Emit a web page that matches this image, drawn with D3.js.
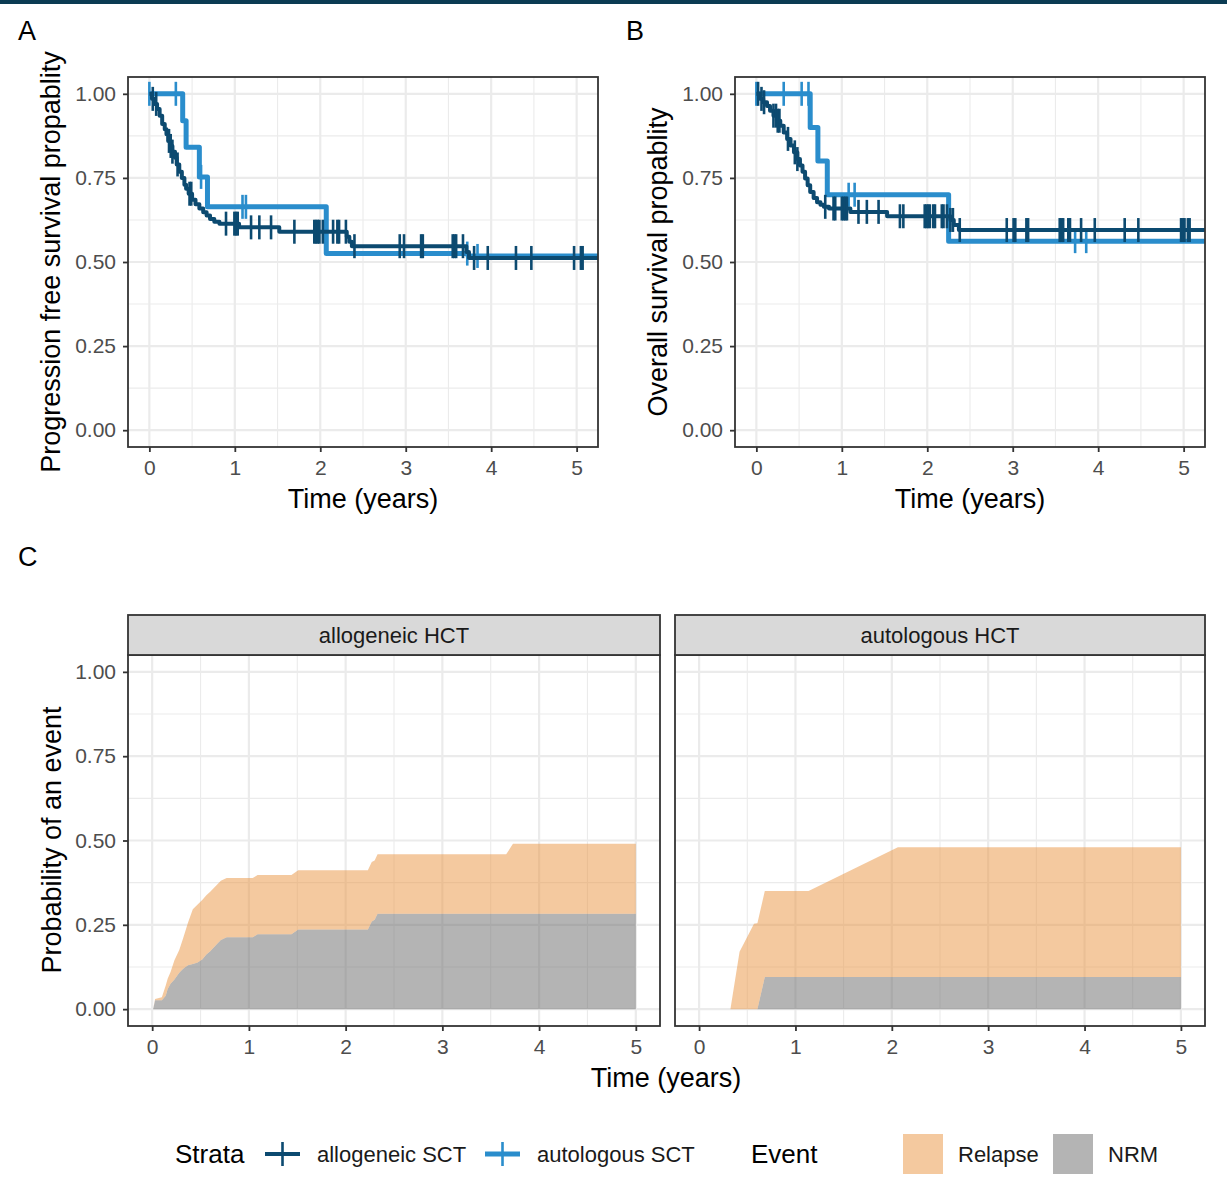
<!DOCTYPE html>
<html>
<head>
<meta charset="utf-8">
<script src="https://cdn.jsdelivr.net/npm/d3@7"></script>
<style>
  body { margin: 0; background: #fff; }
  svg { display: block; font-family: "Liberation Sans", Arial, Helvetica, sans-serif; }
</style>
</head>
<body>
<svg id="chart" width="1227" height="1195"></svg>
<script>
// ---- Kaplan-Meier: progression free survival ----
const strata = ["allogeneic SCT", "autologous SCT"];

const pfsAlloTime = [0,0.03,0.06,0.09,0.12,0.15,0.18,0.20,0.22,0.25,0.27,0.30,0.32,0.35,0.38,0.41,0.43,0.46,0.50,0.54,0.585,0.63,0.67,0.71,0.76,0.82,1.05,1.52,2.31,2.34,2.37,3.71,3.74];
const pfsAlloSurv = [1,0.985,0.97,0.955,0.935,0.91,0.895,0.88,0.86,0.845,0.828,0.81,0.79,0.768,0.75,0.73,0.718,0.703,0.685,0.672,0.659,0.648,0.638,0.628,0.62,0.614,0.603,0.59,0.575,0.56,0.547,0.53,0.512];
const pfsAlloCensor = [0.04,0.08,0.23,0.25,0.27,0.33,0.47,0.49,0.897,0.995,1.014,1.034,1.19,1.287,1.424,1.697,1.93,1.95,1.97,1.99,2.03,2.15,2.2,2.22,2.30,2.40,2.93,2.98,3.18,3.2,3.55,3.57,3.59,3.67,3.80,3.96,4.29,4.47,4.97,5.05,5.07];

const pfsAutoTime = [0,0.39,0.43,0.585,0.68,2.07,3.73];
const pfsAutoSurv = [1,0.92,0.841,0.753,0.664,0.525,0.518];
const pfsAutoCensor = [0,0.31,0.605,1.09,1.13,3.72,3.84];

// ---- Kaplan-Meier: overall survival ----
const osAlloTime = [0,0.04,0.08,0.125,0.16,0.20,0.24,0.28,0.32,0.36,0.40,0.44,0.48,0.51,0.54,0.57,0.60,0.63,0.67,0.71,0.75,0.79,0.85,1.10,1.53,2.27,2.31,2.37];
const osAlloSurv = [1,0.985,0.975,0.964,0.95,0.935,0.92,0.905,0.885,0.866,0.846,0.826,0.806,0.787,0.768,0.748,0.728,0.708,0.69,0.678,0.67,0.664,0.659,0.649,0.636,0.625,0.61,0.595];
const osAlloCensor = [0.02,0.06,0.09,0.2,0.23,0.25,0.27,0.37,0.45,0.48,0.806,0.903,0.923,1.0,1.02,1.04,1.06,1.195,1.293,1.43,1.68,1.72,1.97,1.99,2.01,2.03,2.07,2.09,2.17,2.19,2.23,2.27,2.30,2.38,2.93,3.01,3.03,3.16,3.18,3.55,3.57,3.59,3.65,3.67,3.80,3.96,4.31,4.47,4.97,4.99,5.01,5.05,5.07];

const osAutoTime = [0,0.63,0.72,0.83,2.25];
const osAutoSurv = [1,0.90,0.80,0.70,0.562];
const osAutoCensor = [0,0.32,0.53,0.61,1.08,1.15,3.73,3.86];

// ---- Cumulative incidence of competing events ----
const facets = ["allogeneic HCT", "autologous HCT"];
const events = ["Relapse", "NRM"];

const cifAlloTime    = [0.01,0.03,0.10,0.14,0.16,0.19,0.23,0.28,0.32,0.37,0.42,0.47,0.52,0.56,0.60,0.66,0.71,0.77,1.04,1.09,1.44,1.51,2.23,2.27,2.30,2.33,3.66,3.73,5.00];
const cifAlloNRM     = [0,0.026,0.026,0.04,0.06,0.075,0.088,0.108,0.12,0.13,0.134,0.138,0.148,0.162,0.172,0.19,0.205,0.213,0.213,0.222,0.222,0.236,0.236,0.26,0.265,0.283,0.283,0.283,0.283];
const cifAlloRelapse = [0,0.004,0.009,0.03,0.03,0.035,0.057,0.067,0.09,0.126,0.162,0.172,0.176,0.176,0.176,0.176,0.176,0.176,0.176,0.176,0.176,0.176,0.176,0.176,0.176,0.176,0.176,0.207,0.207];

const cifAutoTime    = [0.325,0.42,0.57,0.605,0.682,1.136,2.063,5.0];
const cifAutoNRM     = [0,0,0,0,0.095,0.095,0.095,0.095];
const cifAutoRelapse = [0,0.17,0.253,0.255,0.255,0.255,0.385,0.385];

// ---- axes ----
const xTicks = [0, 1, 2, 3, 4, 5];
const xMinor = [0.5, 1.5, 2.5, 3.5, 4.5];
const yTicks = [0, 0.25, 0.5, 0.75, 1];
const yMinor = [0.125, 0.375, 0.625, 0.875];

// ---- style ----
const colAllo = "#0c4a70";
const colAuto = "#2a8dcc";
const colRelapse = "#e9933f";
const colNRM = "#696969";
const areaAlpha = 0.5;
const gridCol = "#ebebeb";
const borderCol = "#333333";
const titleSize = "27px";
const tickSize = "21px";

const svg = d3.select("#chart");

// thin dark band along the top edge
svg.append("rect").attr("x", 0).attr("y", 0).attr("width", 1227).attr("height", 4).attr("fill", "#0b3b53");

let clipId = 0;

function panelFrame(p) {
  const g = svg.append("g");
  const x = d3.scaleLinear().domain([-0.25, 5.25]).range([p.x, p.x + p.w]);
  const y = d3.scaleLinear().domain([-0.05, 1.05]).range([p.y + p.h, p.y]);
  g.append("rect").attr("x", p.x).attr("y", p.y).attr("width", p.w).attr("height", p.h).attr("fill", "#fff");
  const grid = g.append("g");
  xMinor.forEach(v => grid.append("line").attr("x1", x(v)).attr("x2", x(v)).attr("y1", p.y).attr("y2", p.y + p.h).attr("stroke", gridCol).attr("stroke-width", 1.1));
  yMinor.forEach(v => grid.append("line").attr("y1", y(v)).attr("y2", y(v)).attr("x1", p.x).attr("x2", p.x + p.w).attr("stroke", gridCol).attr("stroke-width", 1.1));
  xTicks.forEach(v => grid.append("line").attr("x1", x(v)).attr("x2", x(v)).attr("y1", p.y).attr("y2", p.y + p.h).attr("stroke", gridCol).attr("stroke-width", 2.2));
  yTicks.forEach(v => grid.append("line").attr("y1", y(v)).attr("y2", y(v)).attr("x1", p.x).attr("x2", p.x + p.w).attr("stroke", gridCol).attr("stroke-width", 2.2));
  const id = "clip" + (clipId++);
  svg.append("clipPath").attr("id", id).append("rect").attr("x", p.x).attr("y", p.y).attr("width", p.w).attr("height", p.h);
  const plot = g.append("g").attr("clip-path", `url(#${id})`);
  return { g, x, y, plot };
}

function panelAxes(f, p, showY) {
  const ax = f.g.append("g").attr("transform", `translate(0,${p.y + p.h})`)
    .call(d3.axisBottom(f.x).tickValues(xTicks).tickFormat(d3.format("d")).tickSize(5).tickPadding(8));
  if (showY) {
    const ay = f.g.append("g").attr("transform", `translate(${p.x},0)`)
      .call(d3.axisLeft(f.y).tickValues(yTicks).tickFormat(d3.format(".2f")).tickSize(5).tickPadding(7));
    styleAxis(ay);
  }
  styleAxis(ax);
  f.g.append("rect").attr("x", p.x).attr("y", p.y).attr("width", p.w).attr("height", p.h)
    .attr("fill", "none").attr("stroke", borderCol).attr("stroke-width", 1.8);
}

function styleAxis(a) {
  a.select(".domain").remove();
  a.selectAll(".tick line").attr("stroke", borderCol).attr("stroke-width", 1.8);
  a.selectAll(".tick text").attr("fill", "#4d4d4d").style("font-size", tickSize).style("font-family", "Liberation Sans, Arial, sans-serif");
}

function stepAt(times, surv, t) {
  return surv[Math.max(0, d3.bisectRight(times, t) - 1)];
}

function drawKM(f, times, surv, censor, color, width) {
  const pts = times.map((t, i) => [t, surv[i]]);
  pts.push([5.3, surv[surv.length - 1]]);
  const line = d3.line().x(d => f.x(d[0])).y(d => f.y(d[1])).curve(d3.curveStepAfter);
  f.plot.append("path").attr("d", line(pts)).attr("fill", "none").attr("stroke", color)
    .attr("stroke-width", width).attr("stroke-linejoin", "round");
  f.plot.selectAll(null).data(censor).enter().append("line")
    .attr("x1", t => f.x(t)).attr("x2", t => f.x(t))
    .attr("y1", t => f.y(stepAt(times, surv, t)) - 12)
    .attr("y2", t => f.y(stepAt(times, surv, t)) + 12)
    .attr("stroke", color).attr("stroke-width", 2.6);
}

function kmPanel(p, tag, tagX, yTitle, series) {
  const f = panelFrame(p);
  series.forEach(s => drawKM(f, s.time, s.surv, s.censor, s.color, s.width));
  panelAxes(f, p, true);
  svg.append("text").attr("x", tagX).attr("y", 40).text(tag).style("font-size", "27px").attr("fill", "#000");
  svg.append("text").attr("transform", `translate(${p.x - 77},${p.y + p.h / 2}) rotate(-90)`)
    .attr("text-anchor", "middle").attr("dy", "0.35em").text(yTitle).style("font-size", titleSize);
  svg.append("text").attr("x", p.x + p.w / 2).attr("y", p.y + p.h + 61).attr("text-anchor", "middle")
    .text("Time (years)").style("font-size", titleSize);
}

kmPanel({ x: 128, y: 77, w: 470, h: 370 }, "A", 18, "Progression free survival propablity", [
  { time: pfsAutoTime, surv: pfsAutoSurv, censor: pfsAutoCensor, color: colAuto, width: 5 },
  { time: pfsAlloTime, surv: pfsAlloSurv, censor: pfsAlloCensor, color: colAllo, width: 4 }
]);
kmPanel({ x: 735, y: 77, w: 470, h: 370 }, "B", 626, "Overall survival propablity", [
  { time: osAutoTime, surv: osAutoSurv, censor: osAutoCensor, color: colAuto, width: 5 },
  { time: osAlloTime, surv: osAlloSurv, censor: osAlloCensor, color: colAllo, width: 4 }
]);

// ---- panel C: stacked cumulative incidence by transplant type ----
svg.append("text").attr("x", 18).attr("y", 566).text("C").style("font-size", "27px");

const cPanels = [
  { p: { x: 128, y: 655, w: 532, h: 371 }, name: facets[0], time: cifAlloTime, nrm: cifAlloNRM, rel: cifAlloRelapse, showY: true },
  { p: { x: 675, y: 655, w: 530, h: 371 }, name: facets[1], time: cifAutoTime, nrm: cifAutoNRM, rel: cifAutoRelapse, showY: false }
];

cPanels.forEach(c => {
  const f = panelFrame(c.p);
  const rows = c.time.map((t, i) => ({ time: t, NRM: c.nrm[i], Relapse: c.rel[i] }));
  const stack = d3.stack().keys(["NRM", "Relapse"])(rows);
  const area = d3.area().x(d => f.x(d.data.time)).y0(d => f.y(d[0])).y1(d => f.y(d[1]));
  const fills = { NRM: colNRM, Relapse: colRelapse };
  stack.forEach(layer => {
    f.plot.append("path").attr("d", area(layer)).attr("fill", fills[layer.key]).attr("fill-opacity", areaAlpha);
  });
  panelAxes(f, c.p, c.showY);
  // facet strip
  svg.append("rect").attr("x", c.p.x).attr("y", 615).attr("width", c.p.w).attr("height", 40)
    .attr("fill", "#d9d9d9").attr("stroke", borderCol).attr("stroke-width", 1.8);
  svg.append("text").attr("x", c.p.x + c.p.w / 2).attr("y", 635).attr("dy", "0.35em").attr("text-anchor", "middle")
    .text(c.name).style("font-size", "22px").attr("fill", "#1a1a1a");
});

svg.append("text").attr("transform", `translate(52,840) rotate(-90)`).attr("text-anchor", "middle")
  .attr("dy", "0.35em").text("Probability of an event").style("font-size", titleSize);
svg.append("text").attr("x", 666).attr("y", 1087).attr("text-anchor", "middle")
  .text("Time (years)").style("font-size", titleSize);

// ---- legends ----
const legY = 1154;
const leg = svg.append("g");
leg.append("text").attr("x", 175).attr("y", legY).attr("dy", "0.35em").text("Strata").style("font-size", "26px");
const strataKeys = [{ x: 265, color: colAllo, w: 4, label: strata[0], tx: 317 }, { x: 485, color: colAuto, w: 5, label: strata[1], tx: 537 }];
strataKeys.forEach(k => {
  leg.append("line").attr("x1", k.x).attr("x2", k.x + 35).attr("y1", legY).attr("y2", legY).attr("stroke", k.color).attr("stroke-width", k.w);
  leg.append("line").attr("x1", k.x + 17.5).attr("x2", k.x + 17.5).attr("y1", legY - 12).attr("y2", legY + 12).attr("stroke", k.color).attr("stroke-width", 2.6);
  leg.append("text").attr("x", k.tx).attr("y", legY).attr("dy", "0.35em").text(k.label).style("font-size", "22px").attr("fill", "#1a1a1a");
});
leg.append("text").attr("x", 751).attr("y", legY).attr("dy", "0.35em").text("Event").style("font-size", "26px");
const eventKeys = [{ x: 903, color: colRelapse, label: events[0], tx: 958 }, { x: 1053, color: colNRM, label: events[1], tx: 1108 }];
eventKeys.forEach(k => {
  leg.append("rect").attr("x", k.x).attr("y", legY - 20).attr("width", 40).attr("height", 40).attr("fill", k.color).attr("fill-opacity", areaAlpha);
  leg.append("text").attr("x", k.tx).attr("y", legY).attr("dy", "0.35em").text(k.label).style("font-size", "22px").attr("fill", "#1a1a1a");
});
</script>
</body>
</html>
